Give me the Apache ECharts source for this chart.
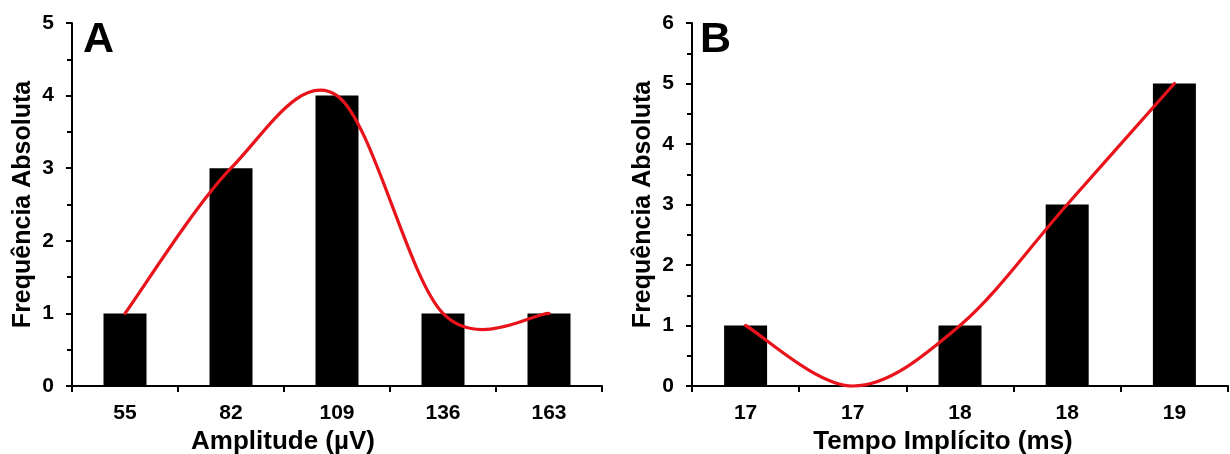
<!DOCTYPE html>
<html>
<head>
<meta charset="utf-8">
<script src="https://cdn.jsdelivr.net/npm/echarts@6/dist/echarts.min.js"></script>
<style>
html,body{margin:0;padding:0;background:#fff;}
#c{width:1230px;height:454px;}
</style>
</head>
<body>
<div id="c"></div>
<script>
// Panel A data
const catsA = ['55', '82', '109', '136', '163'];
const valsA = [1, 3, 4, 1, 1];
const yTicksA = [0, 1, 2, 3, 4, 5];
// Panel B data
const catsB = ['17', '17', '18', '18', '19'];
const valsB = [1, 0, 1, 3, 5];
const yTicksB = [0, 1, 2, 3, 4, 5, 6];

const FONT = '"Liberation Sans", Arial, sans-serif';
const black = '#000';
const red = '#e8131b';

function xAxis(grid, cats, name, shiftLeft) {
  return {
    type: 'category', gridIndex: grid, data: cats,
    name: name, nameLocation: 'middle', nameGap: 41,
    nameTextStyle: {fontFamily: FONT, fontWeight: 'bold', fontSize: 26, color: black,
                    padding: [0, shiftLeft * 2, 0, 0]},
    axisLine: {lineStyle: {color: black, width: 2}},
    axisTick: {show: true, length: 6, lineStyle: {color: black, width: 2}, alignWithLabel: false},
    axisLabel: {fontFamily: FONT, fontWeight: 'bold', fontSize: 21, color: black, margin: 17}
  };
}
function yAxis(grid, ticks) {
  return {
    type: 'value', gridIndex: grid, min: ticks[0], max: ticks[ticks.length - 1], interval: 1,
    name: 'Frequência Absoluta', nameLocation: 'middle', nameGap: 36,
    nameTextStyle: {fontFamily: FONT, fontWeight: 'bold', fontSize: 25, color: black},
    axisLine: {show: true, lineStyle: {color: black, width: 2}},
    axisTick: {show: true, length: 6, lineStyle: {color: black, width: 2}},
    minorTick: {show: true, splitNumber: 2, length: 5, lineStyle: {color: black, width: 2}},
    splitLine: {show: false},
    axisLabel: {fontFamily: FONT, fontWeight: 'bold', fontSize: 21, color: black, margin: 18}
  };
}

// Spreadsheet-style smoothed curve (Bezier, tangents = (next - prev) / 6),
// built from the data points through the axes' own scales.
function curveSeries(axisIdx, vals) {
  return {
    type: 'custom', xAxisIndex: axisIdx, yAxisIndex: axisIdx, z: 5,
    data: vals.map((v, i) => [i, v]),
    renderItem: function (params, api) {
      if (params.dataIndex !== 0) return null;
      const pts = vals.map((v, i) => api.coord([i, v]));
      const n = pts.length;
      const tan = pts.map((cur, i) => {
        const p = pts[Math.max(0, i - 1)], q = pts[Math.min(n - 1, i + 1)];
        return [(q[0] - p[0]) / 6, (q[1] - p[1]) / 6];
      });
      let d = 'M' + pts[0][0] + ' ' + pts[0][1];
      for (let i = 1; i < n; i++) {
        const a = pts[i - 1], b = pts[i];
        d += ' C' + (a[0] + tan[i - 1][0]) + ' ' + (a[1] + tan[i - 1][1]) + ' ' +
             (b[0] - tan[i][0]) + ' ' + (b[1] - tan[i][1]) + ' ' + b[0] + ' ' + b[1];
      }
      return {
        type: 'path', shape: {pathData: d},
        style: {stroke: red, lineWidth: 3.2, fill: null, lineCap: 'round'}
      };
    }
  };
}

const chart = echarts.init(document.getElementById('c'));
chart.setOption({
  animation: false,
  backgroundColor: '#fff',
  grid: [
    {left: 72, top: 23, width: 530, height: 363, outerBoundsMode: 'none', containLabel: false},
    {left: 692, top: 23, width: 536, height: 363, outerBoundsMode: 'none', containLabel: false}
  ],
  xAxis: [xAxis(0, catsA, 'Amplitude (µV)', 54), xAxis(1, catsB, 'Tempo Implícito (ms)', 17)],
  yAxis: [yAxis(0, yTicksA), yAxis(1, yTicksB)],
  graphic: [
    {type: 'text', left: 83, top: 19, style: {text: 'A', font: 'bold 43px ' + FONT, fill: black}},
    {type: 'text', left: 700, top: 19, style: {text: 'B', font: 'bold 43px ' + FONT, fill: black}}
  ],
  series: [
    {type: 'bar', xAxisIndex: 0, yAxisIndex: 0, data: valsA, barWidth: 43, itemStyle: {color: black}},
    curveSeries(0, valsA),
    {type: 'bar', xAxisIndex: 1, yAxisIndex: 1, data: valsB, barWidth: 43, itemStyle: {color: black}},
    curveSeries(1, valsB)
  ]
});
</script>
</body>
</html>
